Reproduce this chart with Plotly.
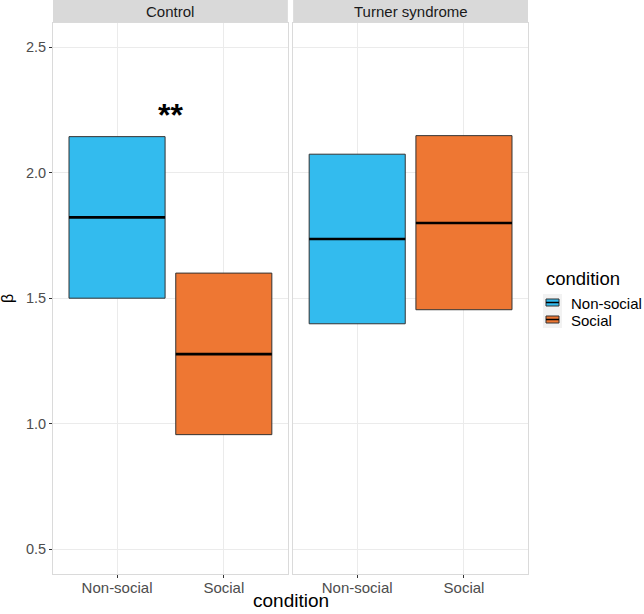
import plotly.graph_objects as go

# === DATA ===
panels = ["Control", "Turner syndrome"]
conditions = ["Non-social", "Social"]
colors = ["#33BBEE", "#EE7733"]

# crossbar values per panel: [Non-social, Social]
ctrl_low = [1.50, 0.956]
ctrl_mean = [1.822, 1.277]
ctrl_high = [2.144, 1.600]

ts_low = [1.398, 1.454]
ts_mean = [1.736, 1.800]
ts_high = [2.074, 2.148]

y_ticks = [0.5, 1.0, 1.5, 2.0, 2.5]
sig_label = "**"
sig_y = 2.23

# === FIGURE ===
fig = go.Figure()
FONT = "Arial, Liberation Sans, sans-serif"
W = 0.9

panel_data = [
    ("x", "y", ctrl_low, ctrl_mean, ctrl_high),
    ("x2", "y2", ts_low, ts_mean, ts_high),
]

for p, (xa, ya, low, mean, high) in enumerate(panel_data):
    for i, cond in enumerate(conditions):
        fig.add_trace(go.Bar(
            x=[i], y=[high[i] - low[i]], base=[low[i]], width=W,
            marker=dict(color=colors[i], line=dict(color="#333333", width=1)),
            name=cond, showlegend=False,
            xaxis=xa, yaxis=ya, hoverinfo="skip",
        ))
    for i, cond in enumerate(conditions):
        fig.add_trace(go.Scatter(
            x=[i - W / 2, i + W / 2], y=[mean[i], mean[i]], mode="lines",
            line=dict(color="black", width=2.6), showlegend=False,
            xaxis=xa, yaxis=ya, hoverinfo="skip",
        ))

# plot area geometry (px)
L, R, T, B = 53, 116, 23, 40
plot_w = 644 - L - R
plot_h = 614 - T - B
gap = 5.3 / plot_w
dom1 = [0, (1 - gap) / 2]
dom2 = [(1 + gap) / 2, 1]


def px_x(px):
    return (px - L) / plot_w


def px_y(py):
    return (614 - B - py) / plot_h


axis_common = dict(
    showgrid=True, gridcolor="#EBEBEB", gridwidth=1,
    showline=True, linecolor="#DADADA", linewidth=1, mirror=True,
    zeroline=False, automargin=False,
)
xcommon = dict(
    axis_common, range=[-0.6, 1.6], tickvals=[0, 1], ticktext=conditions,
    ticks="outside", ticklen=3, tickcolor="#333333", ticklabelstandoff=-3,
    tickfont=dict(family=FONT, size=15, color="#4D4D4D"),
)
ycommon = dict(
    axis_common, range=[0.4005, 2.597], tickvals=y_ticks,
    tickformat=".1f",
)

fig.update_layout(
    width=644, height=614,
    margin=dict(l=L, r=R, t=T, b=B),
    plot_bgcolor="white", paper_bgcolor="white",
    barmode="overlay", showlegend=False,
    font=dict(family=FONT),
    xaxis=dict(xcommon, domain=dom1, anchor="y"),
    xaxis2=dict(xcommon, domain=dom2, anchor="y2"),
    yaxis=dict(ycommon, anchor="x", ticks="outside", ticklen=3,
               tickcolor="#333333",
               tickfont=dict(family=FONT, size=14.5, color="#4D4D4D")),
    yaxis2=dict(ycommon, anchor="x2", matches="y", showticklabels=False),
)

# facet strips
strip_h = T / plot_h
for name, xa in zip(panels, ["x", "x2"]):
    fig.add_shape(type="rect", xref=f"{xa} domain", yref="paper",
                  x0=0, x1=1, y0=1, y1=1 + strip_h,
                  fillcolor="#D9D9D9", line=dict(width=0), layer="below")
    fig.add_annotation(xref=f"{xa} domain", yref="paper", x=0.5,
                       y=1 + strip_h / 2, text=name, showarrow=False,
                       yanchor="middle",
                       font=dict(family=FONT, size=15, color="#1A1A1A"))

# legend (ggplot style, crossbar keys)
fig.add_annotation(xref="paper", yref="paper", x=px_x(544), y=px_y(278),
                   xanchor="left", yanchor="middle", text="condition",
                   showarrow=False,
                   font=dict(family=FONT, size=18.5, color="black"))
key_y = [302.5, 319.5]
for cond, col, ky in zip(conditions, colors, key_y):
    fig.add_shape(type="rect", xref="paper", yref="paper",
                  x0=px_x(543), x1=px_x(562), y0=px_y(ky - 8.5), y1=px_y(ky + 8.5),
                  fillcolor="#F2F2F2", line=dict(width=0))
    fig.add_shape(type="rect", xref="paper", yref="paper",
                  x0=px_x(546), x1=px_x(559), y0=px_y(ky - 3.5), y1=px_y(ky + 3.5),
                  fillcolor=col, line=dict(color="#333333", width=1))
    fig.add_shape(type="line", xref="paper", yref="paper",
                  x0=px_x(546), x1=px_x(559), y0=px_y(ky), y1=px_y(ky),
                  line=dict(color="black", width=1.5))
    fig.add_annotation(xref="paper", yref="paper", x=px_x(569), y=px_y(ky + 1),
                       xanchor="left", yanchor="middle", text=cond,
                       showarrow=False,
                       font=dict(family=FONT, size=15, color="black"))

# significance marker in Control panel
fig.add_annotation(x=0.5, y=sig_y, xref="x", yref="y", text=f"<b>{sig_label}</b>",
                   showarrow=False, font=dict(family=FONT, size=32, color="black"))

# axis titles
fig.add_annotation(xref="paper", yref="paper", x=0.5, y=px_y(600),
                   text="condition", showarrow=False, yanchor="middle",
                   font=dict(family=FONT, size=19, color="black"))
fig.add_annotation(xref="paper", yref="paper", x=px_x(7), y=px_y(299),
                   xanchor="center", yanchor="middle",
                   text="β", textangle=-90, showarrow=False,
                   font=dict(family=FONT, size=16, color="black"))

fig.write_html("out.html", config={"displayModeBar": False},
               post_script="document.body.style.margin='0';")
